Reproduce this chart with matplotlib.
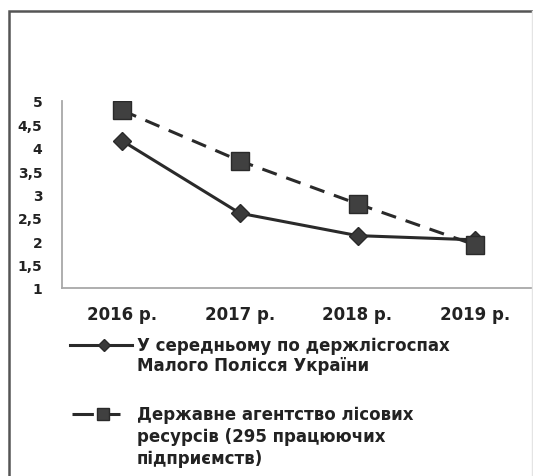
import numpy as np
import matplotlib
matplotlib.use("Agg")
import matplotlib.pyplot as plt
from matplotlib.lines import Line2D
from matplotlib.patches import Rectangle

plt.rcParams['font.family'] = ['DejaVu Sans']

years = ["2016 р.", "2017 р.", "2018 р.", "2019 р."]
avg_small_polissia = [4.15, 2.6, 2.12, 2.03]
state_agency = [4.8, 3.72, 2.8, 1.92]
y_ticks = [1, 1.5, 2, 2.5, 3, 3.5, 4, 4.5, 5]

label_1 = "У середньому по держлісгоспах\nМалого Полісся України"
label_2 = "Державне агентство лісових\nресурсів (295 працюючих\nпідприємств)"

W, H = 533, 477
fig = plt.figure(figsize=(W / 100, H / 100), dpi=100)
ax = fig.add_axes([62 / W, 1 - 289 / H, 1 - 62 / W, (289 - 102) / H])


def fx(px):
    return px / W


def fy(py):
    return 1 - py / H


dark = "#2a2a2a"
txt = "#222222"

x = np.arange(len(years))
ax.plot(x, avg_small_polissia, color=dark, lw=2.2, marker="D", ms=9.5,
        mfc="#3a3a3a", mec=dark, zorder=3)
ax.plot(x, state_agency, color=dark, lw=2.2, dashes=(5, 3.3), marker="s", ms=13,
        mfc="#404040", mec=dark, zorder=4)

ax.set_xlim(-0.51, 3.49)
ax.set_ylim(1, 5)
ax.set_xticks(x)
ax.set_xticklabels(years, fontsize=12, fontweight="bold", color=txt)
ax.set_yticks(y_ticks)
ax.set_yticklabels([("%g" % v).replace(".", ",") for v in y_ticks],
                   fontsize=10, fontweight="bold", color=txt)
ax.tick_params(length=0, axis="x", pad=12)
ax.tick_params(length=0, axis="y", pad=14)
for s in ["top", "right"]:
    ax.spines[s].set_visible(False)
for s in ["left", "bottom"]:
    ax.spines[s].set_color("#a8a8a8")
    ax.spines[s].set_linewidth(1.3)

# legend, drawn by hand so the keys sit at the first line of each label
fig.add_artist(Line2D([fx(70), fx(132)], [fy(346), fy(346)], transform=fig.transFigure,
                      color=dark, lw=2.2))
fig.add_artist(Line2D([fx(104)], [fy(346)], transform=fig.transFigure, marker="D", ms=6.5,
                      mfc="#3a3a3a", mec=dark, lw=0))
fig.text(fx(137), fy(337), label_1, fontsize=12, fontweight="bold", color=txt,
         va="top", ha="left", linespacing=1.15)

fig.add_artist(Line2D([fx(72), fx(120)], [fy(415), fy(415)], transform=fig.transFigure,
                      color=dark, lw=2.2, dashes=(7, 4)))
fig.add_artist(Line2D([fx(103)], [fy(415)], transform=fig.transFigure, marker="s", ms=8,
                      mfc="#404040", mec=dark, lw=0))
fig.text(fx(137), fy(406), label_2, fontsize=12, fontweight="bold", color=txt,
         va="top", ha="left", linespacing=1.27)

# outer frame
fig.add_artist(Rectangle((fx(9), -0.1), 1.2, 1.1 - 12 / H, transform=fig.transFigure,
                         fill=False, ec="#555555", lw=1.8))
fig.add_artist(Line2D([fx(532), fx(532)], [0, fy(12)], transform=fig.transFigure,
                      color="#e4e4e4", lw=1))

fig.savefig("out.png", dpi=100)
